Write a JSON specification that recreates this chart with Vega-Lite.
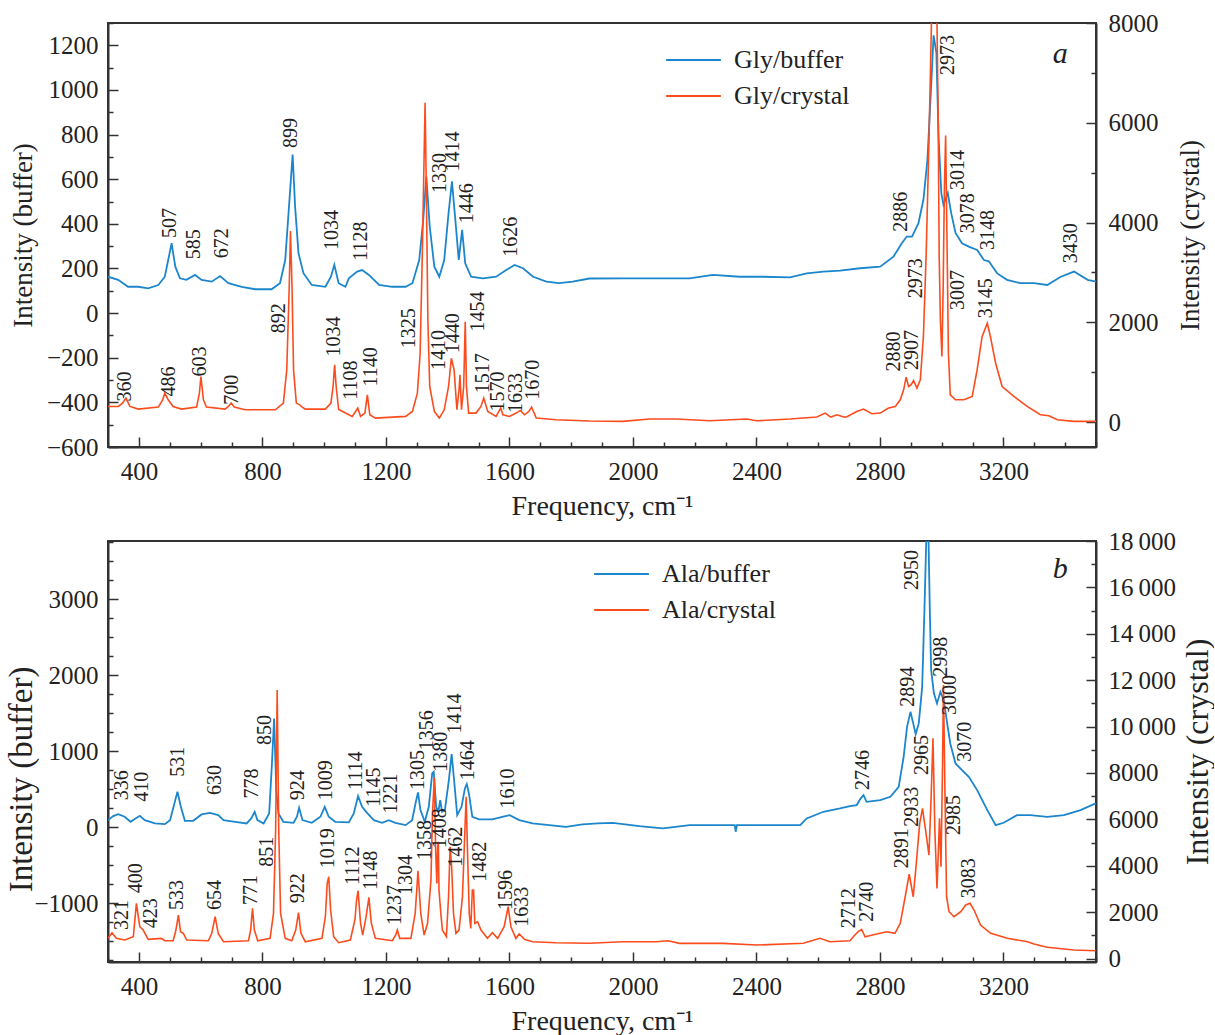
{
"$schema":"https://vega.github.io/schema/vega-lite/v6.json",
"padding":{"left":4,"top":10,"right":0,"bottom":0},
"background":"white",
"spacing":7,
"config":{
 "view":{"stroke":"#333","strokeWidth":2},
 "font":"Liberation Serif",
 "axis":{"labelFont":"Liberation Serif","titleFont":"Liberation Serif","labelFontSize":25,"titleFontSize":28,"labelColor":"#222","titleColor":"#222","titleFontWeight":"normal","domainColor":"#333","domainWidth":2,"tickColor":"#333","tickWidth":1.5,"grid":false,"labelOverlap":false,"labelFlush":false},
 "legend":{"labelFont":"Liberation Serif","labelFontSize":26,"labelColor":"#222","symbolType":"stroke","symbolSize":3000,"symbolStrokeWidth":2,"labelOffset":12,"padding":0,"rowPadding":2,"clipHeight":34,"title":null,"orient":"none"},
 "text":{"font":"Liberation Serif"}
},
"datasets":{
 "glyBuf":[{"f":300,"v":163},{"f":333,"v":149},{"f":365,"v":118},{"f":398,"v":118},{"f":430,"v":111},{"f":463,"v":126},{"f":484,"v":163},{"f":495,"v":238},{"f":506,"v":313},{"f":518,"v":208},{"f":533,"v":156},{"f":554,"v":149},{"f":582,"v":171},{"f":603,"v":149},{"f":636,"v":141},{"f":663,"v":166},{"f":690,"v":134},{"f":733,"v":118},{"f":777,"v":107},{"f":830,"v":107},{"f":857,"v":134},{"f":874,"v":238},{"f":887,"v":493},{"f":898,"v":710},{"f":906,"v":477},{"f":917,"v":268},{"f":933,"v":179},{"f":960,"v":126},{"f":1004,"v":118},{"f":1022,"v":163},{"f":1033,"v":216},{"f":1047,"v":134},{"f":1069,"v":118},{"f":1080,"v":156},{"f":1107,"v":186},{"f":1123,"v":193},{"f":1145,"v":171},{"f":1178,"v":126},{"f":1221,"v":118},{"f":1264,"v":118},{"f":1286,"v":134},{"f":1308,"v":238},{"f":1321,"v":418},{"f":1331,"v":612},{"f":1342,"v":388},{"f":1357,"v":208},{"f":1373,"v":163},{"f":1389,"v":238},{"f":1403,"v":448},{"f":1414,"v":590},{"f":1425,"v":418},{"f":1436,"v":238},{"f":1447,"v":373},{"f":1457,"v":223},{"f":1476,"v":163},{"f":1514,"v":156},{"f":1557,"v":163},{"f":1590,"v":193},{"f":1617,"v":216},{"f":1644,"v":201},{"f":1677,"v":163},{"f":1720,"v":141},{"f":1761,"v":134},{"f":1805,"v":141},{"f":1859,"v":155},{"f":1968,"v":156},{"f":2076,"v":156},{"f":2184,"v":156},{"f":2259,"v":171},{"f":2346,"v":163},{"f":2422,"v":163},{"f":2509,"v":160},{"f":2563,"v":178},{"f":2617,"v":186},{"f":2671,"v":190},{"f":2736,"v":201},{"f":2801,"v":208},{"f":2844,"v":253},{"f":2871,"v":313},{"f":2887,"v":343},{"f":2904,"v":343},{"f":2925,"v":403},{"f":2941,"v":508},{"f":2954,"v":687},{"f":2965,"v":986},{"f":2974,"v":1245},{"f":2983,"v":1166},{"f":2990,"v":792},{"f":2999,"v":538},{"f":3006,"v":485},{"f":3020,"v":538},{"f":3031,"v":448},{"f":3045,"v":359},{"f":3066,"v":313},{"f":3088,"v":298},{"f":3115,"v":283},{"f":3137,"v":238},{"f":3153,"v":232},{"f":3180,"v":178},{"f":3212,"v":149},{"f":3255,"v":134},{"f":3299,"v":134},{"f":3342,"v":126},{"f":3386,"v":163},{"f":3429,"v":186},{"f":3473,"v":149},{"f":3500,"v":141}],
 "glyCry":[{"f":300,"v":313},{"f":333,"v":313},{"f":347,"v":380},{"f":358,"v":480},{"f":371,"v":313},{"f":398,"v":260},{"f":463,"v":300},{"f":477,"v":446},{"f":484,"v":580},{"f":495,"v":446},{"f":511,"v":313},{"f":538,"v":260},{"f":587,"v":300},{"f":596,"v":580},{"f":601,"v":913},{"f":609,"v":446},{"f":619,"v":300},{"f":679,"v":260},{"f":690,"v":313},{"f":699,"v":380},{"f":709,"v":300},{"f":744,"v":246},{"f":842,"v":246},{"f":868,"v":380},{"f":879,"v":1046},{"f":887,"v":2712},{"f":891,"v":3830},{"f":896,"v":2712},{"f":901,"v":1046},{"f":910,"v":380},{"f":921,"v":346},{"f":926,"v":313},{"f":939,"v":260},{"f":1004,"v":260},{"f":1022,"v":380},{"f":1029,"v":713},{"f":1034,"v":1146},{"f":1039,"v":713},{"f":1047,"v":250},{"f":1063,"v":200},{"f":1091,"v":113},{"f":1102,"v":213},{"f":1109,"v":280},{"f":1118,"v":113},{"f":1132,"v":180},{"f":1140,"v":546},{"f":1148,"v":146},{"f":1166,"v":80},{"f":1264,"v":113},{"f":1286,"v":213},{"f":1302,"v":580},{"f":1311,"v":1380},{"f":1318,"v":3380},{"f":1324,"v":5380},{"f":1327,"v":6400},{"f":1331,"v":4712},{"f":1336,"v":2046},{"f":1342,"v":713},{"f":1357,"v":213},{"f":1373,"v":80},{"f":1389,"v":246},{"f":1403,"v":713},{"f":1412,"v":1280},{"f":1421,"v":1046},{"f":1430,"v":246},{"f":1437,"v":646},{"f":1440,"v":946},{"f":1445,"v":246},{"f":1452,"v":713},{"f":1457,"v":2013},{"f":1461,"v":713},{"f":1468,"v":180},{"f":1492,"v":180},{"f":1508,"v":313},{"f":1517,"v":480},{"f":1530,"v":213},{"f":1557,"v":113},{"f":1566,"v":213},{"f":1572,"v":280},{"f":1579,"v":146},{"f":1600,"v":113},{"f":1622,"v":180},{"f":1635,"v":233},{"f":1649,"v":146},{"f":1663,"v":213},{"f":1672,"v":300},{"f":1687,"v":80},{"f":1752,"v":46},{"f":1859,"v":20},{"f":1968,"v":13},{"f":2054,"v":60},{"f":2141,"v":60},{"f":2249,"v":26},{"f":2368,"v":60},{"f":2401,"v":26},{"f":2509,"v":60},{"f":2596,"v":100},{"f":2623,"v":180},{"f":2641,"v":100},{"f":2661,"v":146},{"f":2683,"v":100},{"f":2692,"v":100},{"f":2725,"v":213},{"f":2747,"v":260},{"f":2774,"v":166},{"f":2801,"v":180},{"f":2828,"v":280},{"f":2850,"v":313},{"f":2866,"v":446},{"f":2877,"v":646},{"f":2885,"v":900},{"f":2893,"v":713},{"f":2901,"v":746},{"f":2909,"v":833},{"f":2920,"v":680},{"f":2931,"v":846},{"f":2941,"v":1713},{"f":2950,"v":3380},{"f":2958,"v":5380},{"f":2965,"v":7380},{"f":2969,"v":8600},{"f":2977,"v":9600},{"f":2985,"v":8000},{"f":2989,"v":6046},{"f":2992,"v":3380},{"f":2996,"v":2046},{"f":3001,"v":1313},{"f":3005,"v":2712},{"f":3009,"v":4712},{"f":3013,"v":5746},{"f":3018,"v":3380},{"f":3022,"v":1380},{"f":3028,"v":546},{"f":3045,"v":446},{"f":3072,"v":446},{"f":3099,"v":513},{"f":3115,"v":1046},{"f":3131,"v":1713},{"f":3148,"v":1980},{"f":3158,"v":1713},{"f":3175,"v":1180},{"f":3196,"v":713},{"f":3234,"v":513},{"f":3277,"v":313},{"f":3320,"v":146},{"f":3347,"v":126},{"f":3375,"v":46},{"f":3429,"v":13},{"f":3500,"v":13}],
 "alaBuf":[{"f":300,"v":92},{"f":317,"v":145},{"f":333,"v":171},{"f":354,"v":136},{"f":373,"v":70},{"f":389,"v":114},{"f":403,"v":149},{"f":419,"v":92},{"f":452,"v":48},{"f":484,"v":39},{"f":501,"v":92},{"f":515,"v":312},{"f":525,"v":465},{"f":536,"v":267},{"f":549,"v":83},{"f":576,"v":83},{"f":603,"v":167},{"f":630,"v":188},{"f":657,"v":158},{"f":674,"v":92},{"f":712,"v":70},{"f":749,"v":48},{"f":764,"v":114},{"f":775,"v":202},{"f":784,"v":92},{"f":804,"v":48},{"f":822,"v":180},{"f":831,"v":838},{"f":838,"v":1430},{"f":845,"v":487},{"f":852,"v":180},{"f":868,"v":70},{"f":901,"v":57},{"f":912,"v":136},{"f":919,"v":254},{"f":930,"v":92},{"f":960,"v":57},{"f":988,"v":136},{"f":1002,"v":267},{"f":1015,"v":136},{"f":1036,"v":70},{"f":1080,"v":62},{"f":1096,"v":180},{"f":1110,"v":408},{"f":1123,"v":267},{"f":1139,"v":188},{"f":1161,"v":92},{"f":1188,"v":57},{"f":1209,"v":92},{"f":1231,"v":57},{"f":1264,"v":26},{"f":1285,"v":92},{"f":1296,"v":312},{"f":1304,"v":456},{"f":1312,"v":224},{"f":1326,"v":70},{"f":1339,"v":267},{"f":1350,"v":706},{"f":1355,"v":728},{"f":1363,"v":267},{"f":1370,"v":202},{"f":1376,"v":355},{"f":1382,"v":202},{"f":1391,"v":224},{"f":1404,"v":619},{"f":1413,"v":960},{"f":1420,"v":662},{"f":1431,"v":158},{"f":1445,"v":267},{"f":1456,"v":509},{"f":1462,"v":566},{"f":1469,"v":443},{"f":1480,"v":136},{"f":1502,"v":101},{"f":1545,"v":101},{"f":1577,"v":136},{"f":1601,"v":158},{"f":1632,"v":92},{"f":1675,"v":48},{"f":1729,"v":26},{"f":1783,"v":4},{"f":1837,"v":35},{"f":1886,"v":48},{"f":1935,"v":57},{"f":2021,"v":13},{"f":2097,"v":-17},{"f":2184,"v":26},{"f":2292,"v":26},{"f":2330,"v":26},{"f":2333,"v":-61},{"f":2337,"v":26},{"f":2422,"v":26},{"f":2542,"v":26},{"f":2563,"v":114},{"f":2617,"v":202},{"f":2671,"v":246},{"f":2703,"v":276},{"f":2725,"v":290},{"f":2738,"v":378},{"f":2747,"v":421},{"f":2757,"v":333},{"f":2801,"v":355},{"f":2834,"v":399},{"f":2861,"v":530},{"f":2877,"v":925},{"f":2888,"v":1320},{"f":2899,"v":1517},{"f":2908,"v":1365},{"f":2916,"v":1224},{"f":2926,"v":1365},{"f":2937,"v":1846},{"f":2944,"v":2812},{"f":2951,"v":3900},{"f":2957,"v":3900},{"f":2962,"v":2812},{"f":2966,"v":2066},{"f":2975,"v":1760},{"f":2985,"v":1628},{"f":2996,"v":1780},{"f":3007,"v":1671},{"f":3018,"v":1365},{"f":3028,"v":1101},{"f":3045,"v":838},{"f":3066,"v":750},{"f":3088,"v":662},{"f":3115,"v":487},{"f":3148,"v":224},{"f":3175,"v":26},{"f":3201,"v":57},{"f":3244,"v":158},{"f":3287,"v":158},{"f":3342,"v":136},{"f":3396,"v":158},{"f":3450,"v":224},{"f":3499,"v":312}],
 "alaCry":[{"f":300,"v":870},{"f":313,"v":1112},{"f":327,"v":870},{"f":354,"v":797},{"f":382,"v":940},{"f":392,"v":2379},{"f":403,"v":1371},{"f":414,"v":1228},{"f":430,"v":827},{"f":473,"v":870},{"f":484,"v":767},{"f":511,"v":767},{"f":520,"v":1228},{"f":528,"v":1875},{"f":535,"v":1156},{"f":544,"v":1085},{"f":555,"v":797},{"f":625,"v":767},{"f":636,"v":1085},{"f":647,"v":1802},{"f":657,"v":1085},{"f":674,"v":724},{"f":755,"v":767},{"f":762,"v":1228},{"f":768,"v":2163},{"f":774,"v":1228},{"f":785,"v":767},{"f":825,"v":870},{"f":836,"v":1948},{"f":843,"v":5538},{"f":848,"v":11572},{"f":853,"v":5538},{"f":859,"v":1948},{"f":874,"v":870},{"f":895,"v":767},{"f":908,"v":1228},{"f":917,"v":1975},{"f":925,"v":1085},{"f":939,"v":724},{"f":993,"v":870},{"f":1004,"v":1802},{"f":1010,"v":3240},{"f":1015,"v":3526},{"f":1021,"v":2090},{"f":1031,"v":940},{"f":1047,"v":681},{"f":1085,"v":800},{"f":1100,"v":1700},{"f":1105,"v":2521},{"f":1110,"v":2922},{"f":1118,"v":1517},{"f":1125,"v":1013},{"f":1136,"v":1802},{"f":1145,"v":2637},{"f":1153,"v":1517},{"f":1166,"v":870},{"f":1221,"v":767},{"f":1232,"v":1013},{"f":1237,"v":1228},{"f":1245,"v":870},{"f":1281,"v":870},{"f":1295,"v":1948},{"f":1304,"v":3784},{"f":1313,"v":1948},{"f":1324,"v":1013},{"f":1335,"v":1517},{"f":1346,"v":3383},{"f":1351,"v":6258},{"f":1357,"v":7800},{"f":1361,"v":4819},{"f":1365,"v":3240},{"f":1368,"v":4819},{"f":1370,"v":5034},{"f":1372,"v":2952},{"f":1378,"v":1948},{"f":1383,"v":1228},{"f":1396,"v":940},{"f":1403,"v":2663},{"f":1408,"v":4819},{"f":1413,"v":3957},{"f":1419,"v":1948},{"f":1427,"v":1085},{"f":1437,"v":1228},{"f":1448,"v":2663},{"f":1456,"v":5538},{"f":1460,"v":6974},{"f":1464,"v":4819},{"f":1470,"v":1948},{"f":1475,"v":1300},{"f":1480,"v":2952},{"f":1484,"v":2952},{"f":1488,"v":1517},{"f":1497,"v":1587},{"f":1508,"v":1228},{"f":1529,"v":870},{"f":1545,"v":1112},{"f":1562,"v":870},{"f":1583,"v":1371},{"f":1596,"v":2233},{"f":1605,"v":1371},{"f":1621,"v":870},{"f":1632,"v":1056},{"f":1649,"v":827},{"f":1675,"v":724},{"f":1751,"v":681},{"f":1859,"v":660},{"f":1968,"v":724},{"f":2076,"v":724},{"f":2114,"v":767},{"f":2151,"v":655},{"f":2292,"v":655},{"f":2401,"v":582},{"f":2552,"v":655},{"f":2606,"v":870},{"f":2638,"v":724},{"f":2703,"v":767},{"f":2719,"v":1013},{"f":2730,"v":1156},{"f":2741,"v":1258},{"f":2752,"v":940},{"f":2790,"v":1056},{"f":2822,"v":1156},{"f":2849,"v":1085},{"f":2866,"v":1517},{"f":2882,"v":2663},{"f":2895,"v":3642},{"f":2908,"v":2663},{"f":2918,"v":4103},{"f":2929,"v":5827},{"f":2938,"v":6474},{"f":2948,"v":5538},{"f":2959,"v":4461},{"f":2966,"v":6974},{"f":2972,"v":9491},{"f":2978,"v":5538},{"f":2985,"v":3025},{"f":2990,"v":4819},{"f":2993,"v":6043},{"f":2998,"v":3957},{"f":3003,"v":8413},{"f":3006,"v":11788},{"f":3011,"v":6974},{"f":3016,"v":2663},{"f":3024,"v":2017},{"f":3040,"v":1802},{"f":3062,"v":2017},{"f":3078,"v":2306},{"f":3092,"v":2379},{"f":3105,"v":2090},{"f":3126,"v":1444},{"f":3159,"v":1085},{"f":3213,"v":870},{"f":3278,"v":724},{"f":3299,"v":625},{"f":3342,"v":483},{"f":3429,"v":366},{"f":3499,"v":336}],
 "glyBufLab":[{"f":501,"v":336,"t":"507"},{"f":580,"v":241,"t":"585"},{"f":670,"v":246,"t":"672"},{"f":892,"v":740,"t":"899"},{"f":1027,"v":283,"t":"1034"},{"f":1119,"v":235,"t":"1128"},{"f":1374,"v":538,"t":"1330"},{"f":1417,"v":635,"t":"1414"},{"f":1464,"v":403,"t":"1446"},{"f":1606,"v":253,"t":"1626"},{"f":2869,"v":365,"t":"2886"},{"f":3020,"v":1067,"t":"2973"},{"f":3052,"v":552,"t":"3014"},{"f":3087,"v":358,"t":"3078"},{"f":3150,"v":283,"t":"3148"},{"f":3419,"v":223,"t":"3430"}],
 "glyCryLab":[{"f":356,"v":413,"t":"360"},{"f":497,"v":513,"t":"486"},{"f":598,"v":913,"t":"603"},{"f":700,"v":346,"t":"700"},{"f":855,"v":1780,"t":"892"},{"f":1031,"v":1313,"t":"1034"},{"f":1087,"v":446,"t":"1108"},{"f":1152,"v":713,"t":"1140"},{"f":1275,"v":1480,"t":"1325"},{"f":1372,"v":1046,"t":"1410"},{"f":1417,"v":1380,"t":"1440"},{"f":1498,"v":1813,"t":"1454"},{"f":1515,"v":580,"t":"1517"},{"f":1564,"v":213,"t":"1570"},{"f":1621,"v":180,"t":"1633"},{"f":1677,"v":446,"t":"1670"},{"f":2845,"v":1013,"t":"2880"},{"f":2903,"v":1046,"t":"2907"},{"f":2916,"v":2480,"t":"2973"},{"f":3052,"v":2246,"t":"3007"},{"f":3144,"v":2080,"t":"3145"}],
 "alaBufLab":[{"f":346,"v":355,"t":"336"},{"f":411,"v":333,"t":"410"},{"f":528,"v":662,"t":"531"},{"f":645,"v":421,"t":"630"},{"f":768,"v":378,"t":"778"},{"f":809,"v":1079,"t":"850"},{"f":917,"v":355,"t":"924"},{"f":1006,"v":355,"t":"1009"},{"f":1103,"v":487,"t":"1114"},{"f":1163,"v":267,"t":"1145"},{"f":1217,"v":180,"t":"1221"},{"f":1304,"v":487,"t":"1305"},{"f":1334,"v":1013,"t":"1356"},{"f":1378,"v":728,"t":"1380"},{"f":1423,"v":1233,"t":"1414"},{"f":1466,"v":618,"t":"1464"},{"f":1596,"v":246,"t":"1610"},{"f":2746,"v":487,"t":"2746"},{"f":2892,"v":1583,"t":"2894"},{"f":2905,"v":3119,"t":"2950"},{"f":2997,"v":1978,"t":"2998"},{"f":3076,"v":859,"t":"3070"}],
 "alaCryLab":[{"f":344,"v":1228,"t":"321"},{"f":392,"v":2810,"t":"400"},{"f":438,"v":1301,"t":"423"},{"f":524,"v":2090,"t":"533"},{"f":647,"v":2090,"t":"654"},{"f":762,"v":2306,"t":"771"},{"f":814,"v":3957,"t":"851"},{"f":914,"v":2379,"t":"922"},{"f":1011,"v":3888,"t":"1019"},{"f":1093,"v":3168,"t":"1112"},{"f":1152,"v":2952,"t":"1148"},{"f":1228,"v":1444,"t":"1237"},{"f":1266,"v":2737,"t":"1304"},{"f":1326,"v":4245,"t":"1358"},{"f":1374,"v":4750,"t":"1408"},{"f":1428,"v":3957,"t":"1462"},{"f":1504,"v":3310,"t":"1482"},{"f":1590,"v":2090,"t":"1596"},{"f":1640,"v":1371,"t":"1633"},{"f":2701,"v":1301,"t":"2712"},{"f":2758,"v":1587,"t":"2740"},{"f":2873,"v":3888,"t":"2891"},{"f":2903,"v":5681,"t":"2933"},{"f":2938,"v":7909,"t":"2965"},{"f":3040,"v":5323,"t":"2985"},{"f":3027,"v":10495,"t":"3000"},{"f":3089,"v":2595,"t":"3083"}],
 "letterA":[{"f":3384,"v":1121,"t":"a"}],
 "letterB":[{"f":3384,"v":3281,"t":"b"}]
},
"resolve":{"scale":{"color":"independent"},"legend":{"color":"independent"}},
"vconcat":[
 {
  "width":988,"height":424,
  "resolve":{"scale":{"y":"independent"}},
  "layer":[
   {"resolve":{"axis":{"y":"independent","x":"independent"}},
    "layer":[
     {"data":{"name":"glyBuf"},"mark":{"type":"line","clip":true,"strokeWidth":1.8},
      "encoding":{
       "x":{"field":"f","type":"quantitative","scale":{"domain":[300,3500],"nice":false,"zero":false},
        "axis":{"orient":"bottom","title":"Frequency, cm⁻¹","values":[400,800,1200,1600,2000,2400,2800,3200],"format":"d","tickSize":-10,"labelPadding":22,"titlePadding":8}},
       "y":{"field":"v","type":"quantitative","scale":{"domain":[-600,1300],"nice":false,"zero":false},
        "axis":{"orient":"left","title":"Intensity (buffer)","titleFontSize":27,"values":[-600,-400,-200,0,200,400,600,800,1000,1200],"format":"d","tickSize":-10,"labelPadding":20,"titleX":-77,"titleBaseline":"alphabetic","titleAngle":270,"titleAlign":"center"}},
       "color":{"datum":"Gly/buffer","type":"nominal","scale":{"domain":["Gly/buffer","Gly/crystal"],"range":["#1c86cc","#fb4c1e"]},"legend":{"orient":"none","legendX":557,"legendY":20}}
      }},
     {"data":{"name":"glyBufLab"},"mark":{"type":"text","angle":270,"align":"left","baseline":"middle","fontSize":20,"color":"#222"},
      "encoding":{"x":{"field":"f","type":"quantitative","axis":{"orient":"bottom","title":null,"labels":false,"domain":false,"tickSize":-5,"values":[300,500,600,700,900,1000,1100,1300,1400,1500,1700,1800,1900,2100,2200,2300,2500,2600,2700,2900,3000,3100,3300,3400,3500]}},
       "y":{"field":"v","type":"quantitative","axis":{"orient":"left","title":null,"labels":false,"domain":false,"tickSize":-5,"values":[-500,-300,-100,100,300,500,700,900,1100,1300]}},"text":{"field":"t"}}},
     {"data":{"name":"letterA"},"mark":{"type":"text","align":"center","baseline":"alphabetic","fontSize":30,"fontStyle":"italic","color":"#222"},
      "encoding":{"x":{"field":"f","type":"quantitative","axis":null},"y":{"field":"v","type":"quantitative","axis":null},"text":{"field":"t"}}}
   ]},
   {"resolve":{"axis":{"y":"independent"}},
    "layer":[
     {"data":{"name":"glyCry"},"mark":{"type":"line","clip":true,"strokeWidth":1.6},
      "encoding":{
       "x":{"field":"f","type":"quantitative","axis":null},
       "y":{"field":"v","type":"quantitative","scale":{"domain":[-500,8000],"nice":false,"zero":false},
        "axis":{"orient":"right","title":"Intensity (crystal)","titleFontSize":27,"values":[0,2000,4000,6000,8000],"format":"d","tickSize":-10,"labelPadding":22,"titleX":102,"titleBaseline":"alphabetic","titleAngle":270,"titleAlign":"center"}},
       "color":{"datum":"Gly/crystal","type":"nominal"}
      }},
     {"data":{"name":"glyCryLab"},"mark":{"type":"text","angle":270,"align":"left","baseline":"middle","fontSize":20,"color":"#222"},
      "encoding":{"x":{"field":"f","type":"quantitative","axis":null},"y":{"field":"v","type":"quantitative",
        "axis":{"orient":"right","title":null,"labels":false,"domain":false,"tickSize":-5,"values":[1000,3000,5000,7000]}},"text":{"field":"t"}}}
   ]}
  ]
 },
 {
  "width":988,"height":421,
  "resolve":{"scale":{"y":"independent"}},
  "layer":[
   {"resolve":{"axis":{"y":"independent","x":"independent"}},
    "layer":[
     {"data":{"name":"alaBuf"},"mark":{"type":"line","clip":true,"strokeWidth":1.8},
      "encoding":{
       "x":{"field":"f","type":"quantitative","scale":{"domain":[300,3500],"nice":false,"zero":false},
        "axis":{"orient":"bottom","title":"Frequency, cm⁻¹","values":[400,800,1200,1600,2000,2400,2800,3200],"format":"d","tickSize":-10,"labelPadding":22,"titlePadding":8}},
       "y":{"field":"v","type":"quantitative","scale":{"domain":[-1775,3765],"nice":false,"zero":false},
        "axis":{"orient":"left","title":"Intensity (buffer)","titleFontSize":33,"values":[-1000,0,1000,2000,3000],"format":"d","tickSize":-10,"labelPadding":20,"titleX":-77,"titleY":238,"titleBaseline":"alphabetic","titleAngle":270,"titleAlign":"center"}},
       "color":{"datum":"Ala/buffer","type":"nominal","scale":{"domain":["Ala/buffer","Ala/crystal"],"range":["#1c86cc","#fb4c1e"]},"legend":{"orient":"none","legendX":485,"legendY":16}}
      }},
     {"data":{"name":"alaBufLab"},"mark":{"type":"text","angle":270,"align":"left","baseline":"middle","fontSize":20,"color":"#222"},
      "encoding":{"x":{"field":"f","type":"quantitative","axis":{"orient":"bottom","title":null,"labels":false,"domain":false,"tickSize":-5,"values":[300,500,600,700,900,1000,1100,1300,1400,1500,1700,1800,1900,2100,2200,2300,2500,2600,2700,2900,3000,3100,3300,3400,3500]}},
       "y":{"field":"v","type":"quantitative","axis":{"orient":"left","title":null,"labels":false,"domain":false,"tickSize":-5,"values":[-1750,-1500,-1250,-750,-500,-250,250,500,750,1250,1500,1750,2250,2500,2750,3250,3500,3750]}},"text":{"field":"t"}}},
     {"data":{"name":"letterB"},"mark":{"type":"text","align":"center","baseline":"alphabetic","fontSize":30,"fontStyle":"italic","color":"#222"},
      "encoding":{"x":{"field":"f","type":"quantitative","axis":null},"y":{"field":"v","type":"quantitative","axis":null},"text":{"field":"t"}}}
   ]},
   {"resolve":{"axis":{"y":"independent"}},
    "layer":[
     {"data":{"name":"alaCry"},"mark":{"type":"line","clip":true,"strokeWidth":1.6},
      "encoding":{
       "x":{"field":"f","type":"quantitative","axis":null},
       "y":{"field":"v","type":"quantitative","scale":{"domain":[-150,18000],"nice":false,"zero":false},
        "axis":{"orient":"right","title":"Intensity (crystal)","titleFontSize":32,"values":[0,2000,4000,6000,8000,10000,12000,14000,16000,18000],"labelExpr":"datum.value >= 10000 ? replace(format(datum.value, ','), ',', '\u2009') : format(datum.value, 'd')","tickSize":-10,"labelPadding":22,"titleX":111,"titleBaseline":"alphabetic","titleAngle":270,"titleAlign":"center"}},
       "color":{"datum":"Ala/crystal","type":"nominal"}
      }},
     {"data":{"name":"alaCryLab"},"mark":{"type":"text","angle":270,"align":"left","baseline":"middle","fontSize":20,"color":"#222"},
      "encoding":{"x":{"field":"f","type":"quantitative","axis":null},"y":{"field":"v","type":"quantitative",
        "axis":{"orient":"right","title":null,"labels":false,"domain":false,"tickSize":-5,"values":[1000,3000,5000,7000,9000,11000,13000,15000,17000]}},"text":{"field":"t"}}}
   ]}
  ]
 }
]
}
